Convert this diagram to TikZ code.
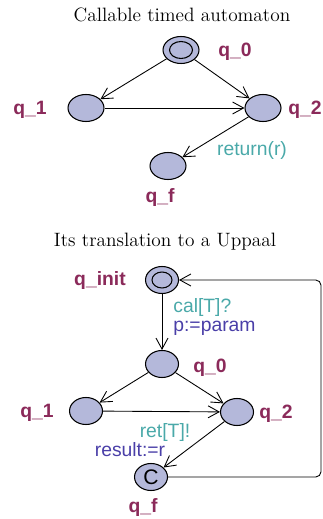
\documentclass[tikz,border=0pt]{standalone}
\usepackage{fontspec}
\setsansfont{Liberation Sans}
\usetikzlibrary{shapes.geometric,arrows.meta}

\definecolor{locfill}{HTML}{B4B8DA}
\definecolor{locname}{HTML}{8B2A5A}
\definecolor{syncol}{HTML}{4AA9A9}
\definecolor{updcol}{HTML}{4A3FA8}

\tikzset{
  loc/.style={ellipse, draw=black, fill=locfill, line width=0.6pt,
              minimum width=0.72cm, minimum height=0.54cm, inner sep=0pt},
  locb/.style={loc, minimum width=0.66cm, minimum height=0.54cm},
  lname/.style={text=locname, font=\sffamily\bfseries\fontsize{11}{12}\selectfont},
  syn/.style={text=syncol, font=\sffamily\fontsize{11}{12}\selectfont, inner sep=0pt},
  upd/.style={text=updcol, font=\sffamily\fontsize{11}{12}\selectfont, inner sep=0pt},
  ttl/.style={font=\fontsize{11}{12}\selectfont},
  edge/.style={-{Straight Barb[length=2.2mm,width=2.4mm]}, line width=0.5pt}
}

\begin{document}
\begin{tikzpicture}[x=0.02cm, y=-0.02cm]
    \useasboundingbox (0,0) rectangle (322,519);
    % callable timed automaton
    \node[ttl] (t1) at (182,15) {Callable timed automaton};
    \node[loc] (q0) at (181,50) {};
    \draw[line width=0.6pt] (q0.center) ellipse [x radius=0.23cm, y radius=0.17cm];
    \node[loc] (q1) at (86,108) {};
    \node[loc] (q2) at (263,108) {};
    \node[loc] (qf) at (168,166) {};
    \node[lname] (n0) at (235,52) {q\_0};
    \node[lname] (n1) at (30,110) {q\_1};
    \node[lname] (n2) at (305,110) {q\_2};
    \node[lname] (nf) at (160,198) {q\_f};
    % 
    \draw[edge] (q0) -- (q1);
    \draw[edge] (q0) -- (q2);
    \draw[edge] (q1) -- (q2);
    \draw[edge] (q2) -- (qf);
    \node[syn] (ret) at (252,151) {return(r)};

    % translation to uppaal
    \node[ttl] (t2) at (165,242) {Its translation to a Uppaal};
    \node[locb] (qi) at (162,280) {};
    \draw[line width=0.6pt] (qi.center) ellipse [x radius=0.2cm, y radius=0.16cm];
    \node[locb] (b0) at (162,364) {};
    \node[locb] (b1) at (86,411) {};
    \node[locb] (b2) at (237,412) {};
    \node[locb] (bf) at (151,477) {\sffamily\fontsize{12}{12}\selectfont C};
    \node[lname] (mi) at (100,281) {q\_init};
    \node[lname] (m0) at (210,368) {q\_0};
    \node[lname] (m1) at (37,413) {q\_1};
    \node[lname] (m2) at (276,414) {q\_2};
    \node[lname] (mf) at (143,507) {q\_f};
    % 
    \draw[edge] (qi) -- (b0);
    \node[syn, anchor=west] (cal) at (173,308) {cal[T]?};
    \node[upd, anchor=west] (par) at (173,328) {p:=param};
    \draw[edge] (b0) -- (b1);
    \draw[edge] (b0) -- (b2);
    \draw[edge] (b1) -- (b2);
    \draw[edge] (b2) -- (bf);
    \node[syn] (rt) at (165,432) {ret[T]!};
    \node[upd] (res) at (130,450) {result:=r};
    \coordinate (c1) at (321,477);
    \coordinate (c2) at (321,280);
    \draw[edge, rounded corners=3pt] (bf) -- (c1) -- (c2) -- (qi);
\end{tikzpicture}
\end{document}
